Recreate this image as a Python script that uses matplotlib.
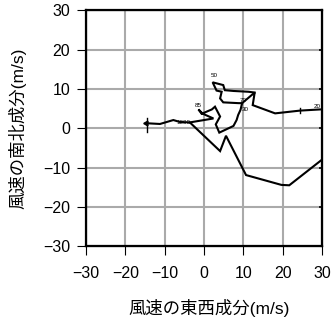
import numpy as np
import matplotlib
matplotlib.use("Agg")
import matplotlib.pyplot as plt

plt.rcParams['font.family'] = ['Liberation Sans', 'Noto Sans CJK JP']

# hodograph, left tail + lower branch (m/s)
u_low = [-14.8, -11.2, -7.8, -6.1, -3.6, 4.1, 5.6, 10.7, 19.7, 21.7, 30.0]
v_low = [1.3, 1.1, 2.1, 1.6, 1.5, -5.8, -1.9, -11.9, -14.4, -14.5, -8.0]

# upper branch from the junction to the top end
u_up = [-3.6, 2.4, -0.3, -1.4, -0.6, 2.0, 2.8, 4.1, 3.0, 3.9, 7.5, 8.3, 8.7, 9.3, 9.7,
        12.9, 12.4, 18.1, 24.4, 29.5]
v_up = [1.5, 2.5, 3.7, 4.8, 3.7, 4.8, 5.5, 3.0, 1.0, -1.1, 0.6, 2.1, 3.4, 4.7, 6.4,
        9.1, 5.9, 3.8, 4.5, 4.8]

# loop around 500
u_loop = [9.7, 8.8, 4.9, 4.1, 4.5, 3.2, 2.2, 4.9, 5.3, 7.5, 11.3, 12.9]
v_loop = [6.4, 6.4, 6.6, 7.6, 9.3, 9.6, 11.7, 11.0, 9.7, 9.5, 9.3, 9.1]

lev_text = ["1000", "85", "70", "50", "30", "20"]
lev_u = [-5.3, -1.5, 10.1, 2.6, 10.5, 28.7]
lev_v = [1.5, 5.9, 7.2, 13.5, 4.7, 5.6]

tick_u = [-14.5, 24.4]
tick_v = [(-0.9, 2.5), (4.0, 5.1)]

fig = plt.figure(figsize=(3.32, 3.19), dpi=100)
ax = fig.add_axes([0.2593, 0.2282, 0.7102, 0.7392])

ax.plot(u_low, v_low, color="black", lw=1.5, solid_joinstyle="miter")
ax.plot(u_up, v_up, color="black", lw=1.5, solid_joinstyle="miter")
ax.plot(u_loop, v_loop, color="black", lw=1.5, solid_joinstyle="miter")
ax.plot([u_low[0]], [v_low[0]], marker=(3, 0, 90), color="black", ms=4)
for tu, (t0, t1) in zip(tick_u, tick_v):
    ax.plot([tu, tu], [t0, t1], color="black", lw=1.0)
for t, x, y in zip(lev_text, lev_u, lev_v):
    ax.text(x, y, t, fontsize=4.5, ha="center", va="center")

ax.set_xlim(-30, 30)
ax.set_ylim(-30, 30)
ax.set_xticks(np.arange(-30, 31, 10))
ax.set_yticks(np.arange(-30, 31, 10))
ax.grid(True, color="#aaaaaa", lw=1.5)
ax.set_axisbelow(True)
for s in ax.spines.values():
    s.set_linewidth(1.6)
ax.tick_params(direction="out", length=6.5, width=0.8, labelsize=11.5)
ax.tick_params(axis="x", pad=8)
ax.tick_params(axis="y", pad=5)

# short inward marks on the right side
ax2 = ax.twinx()
ax2.set_ylim(-30, 30)
ax2.set_yticks(np.arange(-30, 31, 10))
ax2.tick_params(direction="in", length=2.5, width=1.2, labelright=False)

ax.set_xlabel("風速の東西成分(m/s)", fontsize=12.5)
ax.set_ylabel("風速の南北成分(m/s)", fontsize=12.5)
ax.xaxis.set_label_coords(0.52, -0.225)
ax.yaxis.set_label_coords(-0.255, 0.5)

fig.savefig("out.png", dpi=100)
